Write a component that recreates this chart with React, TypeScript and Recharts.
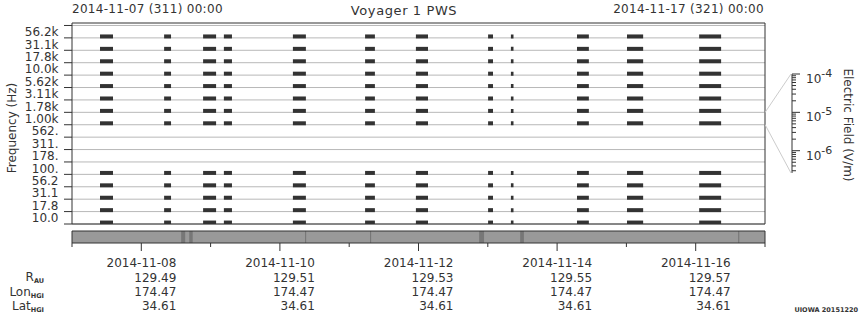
import React from 'react';
import { BarChart, Bar, ComposedChart, XAxis, YAxis, CartesianGrid, ReferenceArea } from 'recharts';

const FONT = '"DejaVu Sans", sans-serif';
const INK = '#333';
const GRID = '#b8b8b8';

// frequency channels, top to bottom
const channels = ['56.2k', '31.1k', '17.8k', '10.0k', '5.62k', '3.11k', '1.78k', '1.00k', '562.', '311.', '178.', '100.', '56.2', '31.1', '17.8', '10.0'];
// channels with data in each burst (index into channels)
const activeChannels = [0, 1, 2, 3, 4, 5, 6, 7, 11, 12, 13, 14, 15];

// data bursts, hours after 2014-11-07 00:00
const bursts: [number, number][] = [
  [9.7, 14.2], [31.9, 34.3], [45.4, 49.9], [52.6, 55.4], [76.5, 81.0], [101.5, 104.9],
  [119.1, 123.3], [144.1, 145.8], [152.0, 152.9], [174.9, 179.0], [192.2, 197.8], [217.2, 224.8],
];

// darker marks in the strip under the plot, hours
const stripMarks: [number, number][] = [
  [37.8, 39.2], [40.6, 41.8], [80.7, 81.1], [103.2, 103.6], [141.0, 142.7], [155.2, 156.5], [230.7, 231.1],
];

const hourTicks = [0, 24, 48, 72, 96, 120, 144, 168, 192, 216, 240];
const labelHours = [24, 72, 120, 168, 216];
const dateLabels = ['2014-11-08', '2014-11-10', '2014-11-12', '2014-11-14', '2014-11-16'];
const rAU = ['129.49', '129.51', '129.53', '129.55', '129.57'];
const lonHGI = ['174.47', '174.47', '174.47', '174.47', '174.47'];
const latHGI = ['34.61', '34.61', '34.61', '34.61', '34.61'];

const fieldMajor = [1e-4, 1e-5, 1e-6];
const fieldMajorExp = ['-4', '-5', '-6'];
const fieldMinor = [
  9e-5, 8e-5, 7e-5, 6e-5, 5e-5, 4e-5, 3e-5, 2e-5,
  9e-6, 8e-6, 7e-6, 6e-6, 5e-6, 4e-6, 3e-6, 2e-6,
  9e-7, 8e-7, 7e-7, 6e-7, 5e-7, 4e-7, 3e-7,
];

const segments = activeChannels.flatMap((ch) =>
  bursts.map(([s, e]) => ({ y: ch + 0.9, span: [s, e] }))
);
const boundaries = channels.map((_, i) => i).concat(channels.length);
const channelTicks = channels.flatMap((_, i) => [i, i + 0.5]).concat(channels.length);

function ChannelTick(props: any) {
  const { x, y, payload } = props;
  const v = payload.value as number;
  if (Number.isInteger(v)) {
    return <line x1={x - 8} x2={x} y1={y} y2={y} stroke={INK} />;
  }
  return (
    <text x={x - 13.5} y={y + 4.5} textAnchor="end" fontSize={12} fontFamily={FONT} fill={INK}>
      {channels[Math.floor(v)]}
    </text>
  );
}

function TimeTick(props: any) {
  const { x, y, payload } = props;
  const i = labelHours.indexOf(payload.value);
  const major = i >= 0;
  return (
    <g>
      <line x1={x} x2={x} y1={y} y2={y + (major ? 8 : 4)} stroke={INK} />
      {major && (
        <text textAnchor="end" fontSize={12} fontFamily={FONT} fill={INK}>
          <tspan x={x + 35} y={y + 24}>{dateLabels[i]}</tspan>
          <tspan x={x + 35} y={y + 38.5}>{rAU[i]}</tspan>
          <tspan x={x + 35} y={y + 53}>{lonHGI[i]}</tspan>
          <tspan x={x + 35} y={y + 67}>{latHGI[i]}</tspan>
        </text>
      )}
    </g>
  );
}

function FieldTick(props: any) {
  const { x, y, payload } = props;
  const v = payload.value as number;
  const i = fieldMajor.findIndex((m) => Math.abs(m - v) / m < 1e-6);
  if (i < 0) return <line x1={x} x2={x + 4} y1={y} y2={y} stroke={INK} />;
  return (
    <g>
      <line x1={x} x2={x + 8} y1={y} y2={y} stroke={INK} />
      <text x={x + 14} y={y + 9} fontSize={12} fontFamily={FONT} fill={INK}>
        10<tspan fontSize={11} dy={-6}>{fieldMajorExp[i]}</tspan>
      </text>
    </g>
  );
}

export default function App() {
  return (
    <div style={{ position: 'fixed', left: 0, top: 0, width: 860, height: 320, background: '#fff', fontFamily: FONT }}>
      <div style={{ position: 'absolute', left: 0, top: 0 }}>
        <BarChart layout="vertical" width={860} height={232} data={segments} margin={{ top: 23, right: 95, bottom: 8, left: 12 }}>
          <CartesianGrid horizontal vertical={false} horizontalValues={boundaries} stroke={GRID} />
          <XAxis type="number" hide domain={[0, 240]} allowDataOverflow />
          <YAxis
            type="number"
            dataKey="y"
            domain={[-0.2, 16]}
            allowDataOverflow
            ticks={channelTicks}
            interval={0}
            tick={<ChannelTick />}
            tickSize={0}
            tickMargin={0}
            tickLine={false}
            axisLine={false}
            width={60}
          />
          <Bar dataKey="span" fill={INK} barSize={4} isAnimationActive={false} />
          <ReferenceArea x1={0} x2={240} y1={-0.2} y2={16} fill="none" stroke={INK} />
        </BarChart>
      </div>

      <div style={{ position: 'absolute', left: 0, top: 0 }}>
        <ComposedChart layout="vertical" width={860} height={320} data={[{ y: 0.5 }]} margin={{ top: 231, right: 95, bottom: 0, left: 72 }}>
          <CartesianGrid fill="#999" horizontal={false} vertical={false} />
          <XAxis
            type="number"
            domain={[0, 240]}
            allowDataOverflow
            ticks={hourTicks}
            interval={0}
            tick={<TimeTick />}
            tickSize={0}
            tickMargin={0}
            tickLine={false}
            axisLine={false}
            height={77}
          />
          <YAxis type="number" dataKey="y" domain={[0, 1]} allowDataOverflow hide />
          {stripMarks.map(([a, b], i) => (
            <ReferenceArea key={i} x1={a} x2={b} y1={0} y2={1} fill="#777" fillOpacity={1} />
          ))}
          <ReferenceArea x1={0} x2={240} y1={0} y2={1} fill="none" stroke={INK} />
        </ComposedChart>
      </div>

      <div style={{ position: 'absolute', left: 0, top: 0 }}>
        <ComposedChart width={860} height={320} data={[{ x: 0 }]} margin={{ top: 74, right: 8, bottom: 147, left: 780 }}>
          <XAxis type="number" dataKey="x" hide domain={[0, 1]} />
          <YAxis
            orientation="right"
            type="number"
            scale="log"
            domain={[2.62e-7, 1e-4]}
            allowDataOverflow
            ticks={[...fieldMajor, ...fieldMinor]}
            interval={0}
            tick={<FieldTick />}
            tickSize={0}
            tickMargin={0}
            tickLine={false}
            axisLine={{ stroke: INK }}
            width={60}
          />
        </ComposedChart>
      </div>

      <svg width={860} height={320} style={{ position: 'absolute', left: 0, top: 0, pointerEvents: 'none' }} fontFamily={FONT} fill={INK}>
        <text x={72} y={12.5} fontSize={12} letterSpacing={0.3}>2014-11-07 (311) 00:00</text>
        <text x={404} y={15} fontSize={13} letterSpacing={0.6} textAnchor="middle">Voyager 1 PWS</text>
        <text x={764} y={12.5} fontSize={12} letterSpacing={0.3} textAnchor="end">2014-11-17 (321) 00:00</text>
        <text transform="translate(15.5,128) rotate(-90)" fontSize={12} textAnchor="middle">Frequency (Hz)</text>
        <text transform="translate(844,125) rotate(90)" fontSize={12} textAnchor="middle">Electric Field (V/m)</text>
        <line x1={765} y1={112.5} x2={791} y2={74} stroke="#ccc" />
        <line x1={765} y1={124.5} x2={791} y2={173} stroke="#ccc" />
        <text x={44} y={281} fontSize={12} textAnchor="end">
          R<tspan fontSize={6.5} fontWeight="bold" dy={2}>AU</tspan>
        </text>
        <text x={44} y={295.5} fontSize={12} textAnchor="end">
          Lon<tspan fontSize={6.5} fontWeight="bold" dy={2}>HGI</tspan>
        </text>
        <text x={44} y={310} fontSize={12} textAnchor="end">
          Lat<tspan fontSize={6.5} fontWeight="bold" dy={2}>HGI</tspan>
        </text>
        <text x={858} y={312} fontSize={6.5} fontWeight="bold" textAnchor="end">UIOWA 20151220</text>
      </svg>
    </div>
  );
}
